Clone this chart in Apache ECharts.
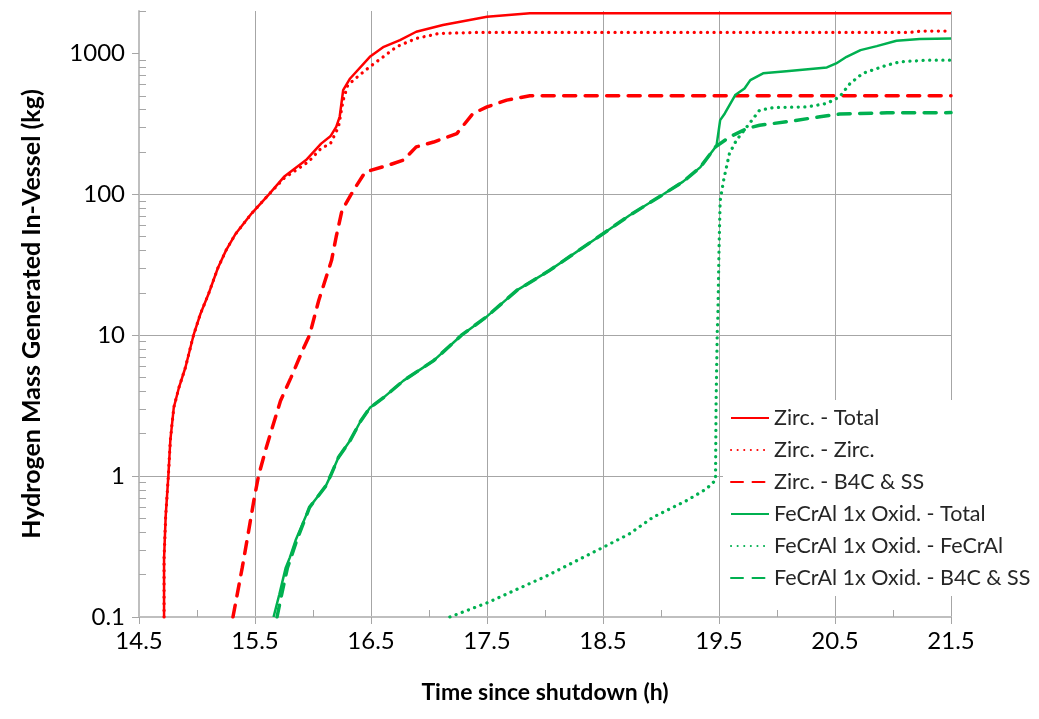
<!DOCTYPE html>
<html>
<head>
<meta charset="utf-8">
<script src="https://cdn.jsdelivr.net/npm/echarts@6/dist/echarts.min.js"></script>
<style>
  html, body { margin: 0; padding: 0; background: #fff; }
  #chart { width: 1039px; height: 719px; }
</style>
</head>
<body>
<div id="chart"></div>
<script>
// time (h), hydrogen mass (kg)
const zircTotal = [
  [14.716, 0.1], [14.716, 0.26], [14.73, 0.52], [14.753, 1.0], [14.77, 1.79], [14.80, 3.07],
  [14.845, 4.27], [14.90, 5.9], [14.97, 10], [15.03, 14.2], [15.10, 19.7], [15.18, 30],
  [15.25, 40], [15.33, 52], [15.47, 73], [15.62, 100], [15.75, 133], [15.94, 175], [16.07, 229],
  [16.15, 258], [16.20, 301], [16.23, 355], [16.26, 548], [16.32, 664], [16.49, 946],
  [16.61, 1114], [16.75, 1243], [16.89, 1425], [17.12, 1589], [17.35, 1725], [17.50, 1820],
  [17.87, 1925], [21.5, 1930]
];
const zircZirc = [
  [14.716, 0.1], [14.716, 0.26], [14.73, 0.52], [14.753, 1.0], [14.77, 1.79], [14.80, 3.07],
  [14.845, 4.27], [14.90, 5.9], [14.97, 10], [15.03, 14.2], [15.10, 19.7], [15.18, 30],
  [15.25, 40], [15.33, 52], [15.47, 73], [15.62, 100], [15.75, 130], [15.96, 170], [16.07, 212],
  [16.15, 229], [16.22, 301], [16.26, 466], [16.30, 596], [16.40, 701], [16.49, 803],
  [16.72, 1114], [16.89, 1278], [17.09, 1387], [17.44, 1410], [21.15, 1410], [21.25, 1440],
  [21.5, 1440]
];
const zircB4c = [
  [15.31, 0.1], [15.39, 0.224], [15.45, 0.43], [15.49, 0.67], [15.53, 1.0], [15.59, 1.52],
  [15.65, 2.22], [15.72, 3.43], [15.81, 5.0], [15.91, 7.8], [15.97, 10], [16.05, 17.7],
  [16.16, 34], [16.20, 50], [16.25, 77], [16.35, 107], [16.45, 144], [16.64, 160],
  [16.78, 175], [16.89, 217], [17.04, 235], [17.24, 270], [17.38, 375], [17.50, 417],
  [17.67, 466], [17.87, 500], [21.5, 500]
];
const fecrTotal = [
  [15.66, 0.1], [15.71, 0.145], [15.765, 0.224], [15.80, 0.264], [15.85, 0.35], [15.97, 0.6],
  [16.11, 0.85], [16.15, 1.0], [16.22, 1.36], [16.32, 1.79], [16.41, 2.45], [16.49, 3.05],
  [16.61, 3.62], [16.78, 4.76], [17.04, 6.6], [17.28, 10], [17.50, 13.6], [17.76, 20.9],
  [18.03, 28.5], [18.50, 52.5], [18.73, 71], [19.02, 100], [19.19, 123], [19.34, 156],
  [19.47, 217], [19.48, 225], [19.51, 336], [19.55, 375], [19.64, 506], [19.72, 563],
  [19.77, 646], [19.88, 722], [20.08, 748], [20.43, 795], [20.51, 849], [20.60, 946],
  [20.72, 1055], [20.86, 1127], [21.03, 1229], [21.23, 1264], [21.5, 1278]
];
const fecrFecr = [
  [17.18, 0.1], [17.50, 0.126], [18.01, 0.195], [18.50, 0.312], [18.73, 0.39], [18.93, 0.51],
  [19.22, 0.67], [19.39, 0.81], [19.47, 0.935], [19.475, 3.4], [19.485, 10.6], [19.49, 13.4],
  [19.50, 40], [19.51, 90], [19.54, 126], [19.59, 195], [19.65, 242], [19.74, 301],
  [19.85, 395], [19.97, 413], [20.26, 417], [20.43, 442], [20.54, 492], [20.63, 612],
  [20.74, 722], [20.95, 826], [21.06, 871], [21.29, 896], [21.5, 896]
];
const fecrB4c = [
  [15.69, 0.1], [15.73, 0.145], [15.78, 0.224], [15.81, 0.264], [15.86, 0.35], [15.97, 0.6],
  [16.11, 0.85], [16.15, 1.0], [16.22, 1.36], [16.32, 1.79], [16.41, 2.45], [16.49, 3.05],
  [16.61, 3.62], [16.78, 4.76], [17.04, 6.6], [17.28, 10], [17.50, 13.6], [17.76, 20.9],
  [18.03, 28.5], [18.50, 52.5], [18.73, 71], [19.02, 100], [19.19, 123], [19.34, 156],
  [19.47, 217], [19.59, 255], [19.74, 293], [19.85, 309], [20.08, 327], [20.37, 355],
  [20.54, 371], [20.95, 379], [21.5, 380]
];

const xTicks = [14.5, 15.5, 16.5, 17.5, 18.5, 19.5, 20.5, 21.5];
const xMinorTicks = [15, 16, 17, 18, 19, 20, 21];
const yTicks = [0.1, 1, 10, 100, 1000];
const yMinorTicks = [
  0.2, 0.3, 0.4, 0.5, 0.6, 0.7, 0.8, 0.9,
  2, 3, 4, 5, 6, 7, 8, 9,
  20, 30, 40, 50, 60, 70, 80, 90,
  200, 300, 400, 500, 600, 700, 800, 900, 2000
];

const RED = "#ff0000";
const GREEN = "#00b050";
const GRID = "#a6a6a6";
const AXIS = "#bfbfbf";
const FONT = "Lato, 'Noto Sans', sans-serif";

const chart = echarts.init(document.getElementById("chart"));

function makeLine(name, data, color, type, width) {
  return {
    name: name,
    type: "line",
    data: data,
    symbol: "none",
    smooth: false,
    animation: false,
    xAxisIndex: 0,
    yAxisIndex: 0,
    lineStyle: { color: color, width: width, type: type, cap: type === "solid" ? "butt" : "round" },
    itemStyle: { color: color },
  };
}

const option = {
  animation: false,
  grid: { left: 139, right: 88, top: 11, bottom: 102 },
  legend: {
    orient: "vertical",
    left: 723,
    top: 400,
    padding: [7, 8, 7, 7],
    backgroundColor: "#ffffff",
    itemWidth: 38,
    itemHeight: 14,
    itemGap: 10,
    itemStyle: { opacity: 0 },
    textStyle: { fontFamily: FONT, fontSize: 21.5, lineHeight: 20, color: "#262626" },
  },
  xAxis: [
    {
      type: "value",
      min: 14.5,
      max: 21.5,
      name: "Time since shutdown (h)",
      nameLocation: "middle",
      nameGap: 64,
      nameTextStyle: { fontFamily: FONT, fontSize: 23, fontWeight: "bold", color: "#000" },
      axisLine: { show: true, lineStyle: { color: AXIS, width: 2 } },
      axisTick: { show: true, length: 7, customValues: xTicks, lineStyle: { color: GRID } },
      axisLabel: {
        customValues: xTicks,
        margin: 12,
        fontFamily: FONT,
        fontSize: 24,
        color: "#000",
        formatter: (v) => v.toFixed(1),
      },
      splitLine: { show: true, lineStyle: { color: GRID, width: 1 } },
    },
    {
      type: "value",
      min: 14.5,
      max: 21.5,
      position: "bottom",
      axisLine: { show: false },
      axisTick: { show: true, inside: true, length: 7, customValues: xMinorTicks, lineStyle: { color: GRID } },
      axisLabel: { show: false },
      splitLine: { show: false },
    },
  ],
  yAxis: [
    {
      type: "log",
      logBase: 10,
      min: 0.1,
      max: 2000,
      name: "Hydrogen Mass Generated In-Vessel (kg)",
      nameLocation: "middle",
      nameGap: 95,
      nameTextStyle: { fontFamily: FONT, fontSize: 25, fontWeight: "bold", color: "#000" },
      axisLine: { show: true, lineStyle: { color: AXIS, width: 2 } },
      axisTick: { show: true, length: 7, customValues: yTicks, lineStyle: { color: GRID } },
      axisLabel: {
        customValues: yTicks,
        margin: 14,
        fontFamily: FONT,
        fontSize: 24,
        color: "#000",
        formatter: (v) => String(Number(v.toPrecision(6))),
      },
      splitLine: { show: true, showMaxLine: false, lineStyle: { color: GRID, width: 1 } },
    },
    {
      type: "log",
      logBase: 10,
      min: 0.1,
      max: 2000,
      position: "left",
      axisLine: { show: false },
      axisTick: { show: true, inside: true, length: 7, customValues: yMinorTicks, lineStyle: { color: GRID } },
      axisLabel: { show: false },
      splitLine: { show: false },
    },
  ],
  series: [
    makeLine("Zirc. - Total", zircTotal, RED, "solid", 2.5),
    makeLine("Zirc. - Zirc.", zircZirc, RED, [0.1, 6.5], 3.25),
    makeLine("Zirc. - B4C & SS", zircB4c, RED, [12, 9.5], 3.5),
    makeLine("FeCrAl 1x Oxid. - Total", fecrTotal, GREEN, "solid", 2.5),
    makeLine("FeCrAl 1x Oxid. - FeCrAl", fecrFecr, GREEN, [0.1, 6.5], 3.25),
    makeLine("FeCrAl 1x Oxid. - B4C & SS", fecrB4c, GREEN, [12, 9.5], 3.5),
  ],
};

chart.setOption(option);
</script>
</body>
</html>
